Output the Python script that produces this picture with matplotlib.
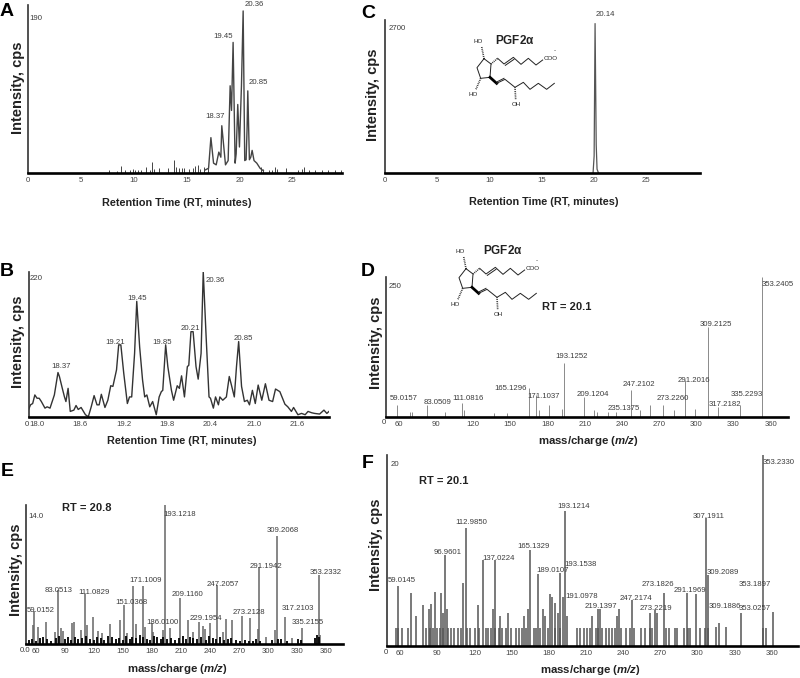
import matplotlib
matplotlib.use('Agg')
import matplotlib.pyplot as plt

plt.rcParams['font.family'] = ['Liberation Sans', 'DejaVu Sans']
plt.rcParams['mathtext.fontset'] = 'custom'
plt.rcParams['mathtext.bfit'] = 'Liberation Sans:italic:bold'

# panel A - full chromatogram
rt_a = [16.76, 17.08, 17.30, 17.55, 17.80, 18.05, 18.24, 18.33, 18.49, 18.68, 18.93, 19.12, 19.25, 19.40, 19.59,
        19.69, 19.84, 20.00, 20.19, 20.35, 20.50, 20.63, 20.72, 20.79, 20.94, 21.07, 21.20, 21.38, 21.64, 21.95, 22.26]
int_a = [3, 5, 41, 11, 9, 24, 18, 55, 34, 9, 14, 102, 73, 153, 11,
         22, 80, 30, 102, 190, 14, 15, 51, 96, 15, 18, 26, 14, 11, 5, 2]
noise_rt_a = [7.64, 8.43, 8.77, 9.21, 9.62, 9.9, 10.16, 10.38, 10.69, 11.19, 11.57, 11.73, 11.89, 12.42, 13.2, 13.84,
              14.03, 14.25, 14.56, 14.78, 15.19, 15.6, 15.82, 16.04, 16.29, 16.6, 17.0, 22.0, 22.26, 22.83, 23.05,
              23.33, 23.58, 24.4, 25.5, 25.88, 26.13, 26.6, 27.14, 27.77, 28.4, 29.03, 29.56]
noise_int_a = [3, 2, 8, 3, 3, 4, 3, 3, 3, 7, 3, 12, 4, 5, 5, 15,
               6, 5, 5, 5, 4, 5, 8, 9, 4, 6, 5, 7, 4, 3, 3,
               7, 4, 5, 3, 4, 6, 3, 3, 3, 3, 3, 3]

# panel B - zoomed chromatogram
rt_b = [17.88, 17.91, 17.94, 17.97, 18.00, 18.03, 18.06, 18.11, 18.14, 18.18, 18.24, 18.29, 18.31, 18.35, 18.38, 18.40,
        18.43, 18.46, 18.51, 18.54, 18.57, 18.61, 18.67, 18.71, 18.75, 18.79, 18.83, 18.86, 18.89, 18.94, 18.98, 19.02,
        19.05, 19.10, 19.13, 19.16, 19.20, 19.25, 19.28, 19.31, 19.35, 19.38, 19.42, 19.46, 19.49, 19.52, 19.56, 19.60,
        19.65, 19.69, 19.72, 19.74, 19.78, 19.81, 19.86, 19.89, 19.94, 19.97, 20.00, 20.04, 20.08, 20.10, 20.13, 20.16,
        20.20, 20.23, 20.27, 20.30, 20.34, 20.38, 20.40, 20.44, 20.47, 20.51, 20.53, 20.57, 20.62, 20.66, 20.69, 20.73,
        20.76, 20.79, 20.83, 20.87, 20.91, 20.94, 20.98, 21.02, 21.06, 21.11, 21.16, 21.21, 21.26, 21.30, 21.36, 21.43,
        21.47, 21.52, 21.55, 21.61, 21.66, 21.71, 21.75, 21.80, 21.84, 21.91, 21.97, 22.01, 22.04]
int_b = [10, 18, 20, 33, 28, 28, 23, 13, 15, 13, 33, 67, 61, 43, 30, 23,
         43, 8, 10, 17, 11, 14, 3, 0, 15, 32, 18, 18, 34, 14, 25, 47,
         46, 71, 109, 109, 66, 20, 30, 30, 96, 175, 106, 56, 30, 33, 15, 23,
         3, 30, 38, 40, 109, 76, 40, 25, 47, 43, 62, 30, 76, 78, 129, 129,
         76, 57, 96, 220, 121, 30, 28, 13, 30, 18, 30, 25, 30, 61, 48, 30,
         76, 114, 46, 23, 25, 18, 40, 20, 48, 25, 50, 25, 23, 42, 38, 19,
         15, 8, 14, 3, 5, 3, 8, 6, 5, 4, 10, 5, 8]

# panel C - single peak
rt_c = [19.95, 20.05, 20.14, 20.25, 20.33, 20.45]
int_c = [0, 300, 2700, 500, 60, 0]

# panel D - spectrum
mz_d = [59.02, 69.4, 71, 83.05, 97, 111.08, 113, 137, 147, 165.13, 171.1, 173, 181, 191.4, 193.13, 209.12, 217.7, 220,
        229, 235.14, 247.21, 255, 263, 273.23, 281.7, 291.2, 299, 309.21, 317.22, 335.23, 353.24]
int_d = [21, 8, 8, 21, 8, 24, 12, 6, 6, 51, 39, 12, 21, 14, 96, 36, 12, 9,
         8, 9, 48, 12, 21, 21, 12, 66, 14, 160, 18, 21, 250]

# panel E - spectrum
mz_e = [58.5, 83.05, 111.08, 151.04, 161, 171.1, 180.01, 193.12, 209.12, 229.2, 247.21, 273.21, 291.19, 309.21,
        317.21, 335.22, 353.23, 56.8, 62, 70.9, 79.9, 85.7, 88.5, 97.1, 99.5, 106.4, 113.3, 118.8, 124.6, 128.4,
        137, 147.4, 154.6, 163.2, 173.2, 180.8, 191.1, 199.3, 217.3, 222.1, 233.1, 235.5, 240, 253.8, 257.2, 263.4,
        281.3, 289.6, 298.5, 307.5, 325.4, 354.3]
int_e = [3.3, 5.4, 5.0, 3.9, 5.8, 5.8, 2.1, 14.0, 4.6, 2.2, 5.9, 2.8, 7.8, 10.9,
         2.7, 1.6, 6.9, 1.9, 1.7, 2.2, 1.2, 1.6, 1.3, 2.1, 2.2, 1.4, 1.9, 2.7, 1.3, 1.1,
         2.0, 2.4, 1.1, 2.0, 1.7, 1.2, 1.4, 1.6, 2.4, 1.2, 1.8, 1.5, 2.1, 1.2, 2.5, 2.4,
         2.6, 1.5, 0.7, 1.4, 0.6, 0.9]
low_mz_e = [53, 56, 60, 64, 67, 72, 76, 81, 84, 90, 93, 96, 101, 104, 108, 112, 116, 120, 123, 127, 131, 135, 139,
            143, 146, 150, 153, 157, 160, 164, 168, 171, 175, 178, 182, 185, 189, 192, 196, 200, 204, 208, 212,
            215, 219, 223, 227, 231, 236, 239, 243, 246, 250, 255, 259, 262, 267, 271, 276, 280, 285, 288, 292,
            304, 311, 314, 320, 331, 334, 349, 351, 353]
low_int_e = [0.4, 0.5, 0.3, 0.6, 0.7, 0.5, 0.3, 0.6, 0.8, 0.5, 0.7, 0.4, 0.7, 0.5, 0.6, 0.8, 0.5, 0.4, 0.7, 0.6, 0.4, 0.8, 0.7,
             0.5, 0.6, 0.4, 0.8, 0.5, 0.7, 0.6, 0.9, 0.7, 0.5, 0.4, 0.8, 0.7, 0.5, 0.7, 0.5, 0.6, 0.4, 0.6, 0.8,
             0.5, 0.7, 0.6, 0.5, 0.7, 0.4, 0.8, 0.6, 0.5, 0.7, 0.4, 0.5, 0.6, 0.4, 0.3, 0.4, 0.3, 0.3, 0.5, 0.3,
             0.4, 0.5, 0.5, 0.3, 0.5, 0.4, 0.6, 0.9, 0.7]

# panel F - spectrum
mz_f = [58.55, 68.8, 72.8, 78.7, 83.0, 84.9, 87.9, 92.7, 94.6, 96.5, 98.1, 110.8, 112.9, 122.9, 126.9, 135, 136.9, 140.9,
        146.8, 160, 163, 165.1, 171, 175.1, 177, 181, 182.9, 185, 187.2, 189.1, 191.2, 193.1, 195, 215.2, 219.5, 221.1,
        235.1, 237, 247.2, 261.5, 265.5, 267.4, 273.3, 291.3, 299.1, 307.2, 308.8, 314.7, 317.2, 323.1, 335.2, 353.2, 361.3]
int_f = [6.3, 5.5, 3.1, 4.3, 3.9, 4.4, 5.6, 5.5, 3.4, 9.5, 3.9, 6.6, 12.3, 4.3, 9.0, 3.9, 9.0, 3.1,
         3.4, 3.1, 3.9, 10, 7.5, 3.9, 3.1, 5.4, 5.1, 4.5, 3.4, 7.6, 5.1, 14.1, 3.1, 3.1, 3.9, 3.9,
         3.1, 3.9, 4.8, 3.4, 3.7, 3.4, 5.5, 5.5, 5.4, 13.4, 7.4, 2.0, 2.4, 2.0, 3.4, 20, 3.5]
low_mz_f = [57, 58.5, 61.8, 66.1, 81.2, 83.8, 86.5, 89.8, 92.5, 94.6, 98.6, 101.3, 103.2, 106.7, 109.4, 114, 116.7, 120.4,
            123.7, 129, 130.9, 133.6, 136.3, 139.8, 142.5, 145.2, 149.8, 153.3, 156, 158.7, 161.4, 167.8, 170, 172.7,
            179.4, 184.8, 188.8, 202.8, 205, 208.2, 210.9, 213.6, 217.9, 219.7, 223.2, 225.9, 228.6, 231.3, 233.2,
            238.6, 242.1, 245.3, 248.5, 254.7, 258, 261.5, 263.6, 274.9, 277.1, 281.6, 283.5, 288.9, 292.4, 294.3,
            302.4, 305.9, 308.5, 353.2, 355.1]
low_level_f = 1.9

xticks_rt = [0, 5, 10, 15, 20, 25]
xticks_b = [18.0, 18.6, 19.2, 19.8, 20.4, 21.0, 21.6]
xticks_mz = [60, 90, 120, 150, 180, 210, 240, 270, 300, 330, 360]

GRAY = '#3c3c3c'
W, H = 800, 678

fig = plt.figure(figsize=(W / 100, H / 100), dpi=100)


def make_axes(left, right, top, bottom, xlim, ylim, ticks, ticklabels=None):
    ax = fig.add_axes([left / W, 1 - bottom / H, (right - left) / W, (bottom - top) / H])
    ax.set_xlim(*xlim)
    ax.set_ylim(*ylim)
    ax.set_xticks(ticks)
    if ticklabels:
        ax.set_xticklabels(ticklabels)
    ax.set_yticks([])
    ax.tick_params(axis='x', length=0, pad=3, labelsize=5.6, labelcolor='#444444')
    ax.spines['top'].set_visible(False)
    ax.spines['right'].set_visible(False)
    ax.spines['left'].set_linewidth(1.2)
    ax.spines['left'].set_color('#333333')
    ax.spines['bottom'].set_linewidth(1.9)
    ax.patch.set_alpha(0)
    return ax


ax_a = make_axes(28, 342, 5, 172.5, (0, 29.7), (0, 197), xticks_rt)
ax_a.plot(rt_a, int_a, color='#444444', lw=1.0)
ax_a.vlines(noise_rt_a, 0, noise_int_a, color='#444444', lw=0.7)

ax_c = make_axes(385, 700, 20, 172.5, (0, 30.2), (0, 2765), xticks_rt)
ax_c.plot(rt_c, int_c, color='#555555', lw=0.9)

ax_b = make_axes(28.7, 329, 271.7, 416.7, (17.885, 22.04), (0, 220),
                 xticks_b, ['%.1f' % t for t in xticks_b])
ax_b.plot(rt_b, int_b, color='#333333', lw=1.0)

ax_d = make_axes(386, 788, 277, 416.7, (49.8, 374), (0, 250), xticks_mz)
ax_d.vlines(mz_d, 0, int_d, color='#8a8a8a', lw=0.7)

ax_e = make_axes(26, 343, 505, 644, (49.9, 377.7), (0, 14), xticks_mz)
ax_e.vlines(mz_e, 0, int_e, color='#666666', lw=1.1)
ax_e.vlines(low_mz_e, 0, low_int_e, color='black', lw=1.3)

ax_f = make_axes(387, 798, 455, 645.7, (49.4, 381.2), (0, 20), xticks_mz)
ax_f.vlines(mz_f, 0, int_f, color='#555555', lw=1.1)
ax_f.vlines(low_mz_f, 0, low_level_f, color='#555555', lw=1.1)

# overlay in image pixels for labels and the structure drawings
ov = fig.add_axes([0, 0, 1, 1], zorder=5)
ov.set_xlim(0, W)
ov.set_ylim(H, 0)
ov.axis('off')


def small(x, y, s, size=5.6):
    ov.text(x, y, s, ha='center', va='center', fontsize=size, color=GRAY)


def molecule(dx, dy):
    def bond(pts, lw=0.7, ls='-', c='#222222'):
        ov.plot([p[0] / 3 + dx for p in pts], [p[1] / 3 + dy for p in pts], color=c, lw=lw, ls=ls)
    bond([(372, 176), (393, 192), (390, 232), (362, 235), (351, 203), (372, 176)])
    bond([(372, 176), (365, 140)], 1.2, (0, (0.5, 0.6)))
    bond([(393, 192), (413, 175)], 1.2, (0, (0.5, 0.6)))
    bond([(413, 175), (432, 192), (460, 172), (483, 193), (505, 175), (528, 195), (548, 180)])
    bond([(436, 196), (462, 178)])
    bond([(390, 232), (410, 250)], 2.0, c='black')
    bond([(410, 250), (435, 238), (465, 262), (490, 247), (510, 268), (535, 250), (560, 268), (583, 250)])
    bond([(412, 245), (432, 235)])
    bond([(465, 262), (467, 298)], 1.2, (0, (0.5, 0.6)))
    bond([(362, 235), (347, 270)], 1.2, (0, (0.5, 0.6)))
    for x, y, s in [(355, 125, 'HO'), (572, 175, 'COO'), (468, 312, 'OH'), (340, 282, 'HO'), (585, 152, '-')]:
        ov.text(x / 3 + dx, y / 3 + dy, s, ha='center', va='center', fontsize=4.5, color='#222222')


def pgf(x, y):
    ov.text(x, y, 'PGF2$\\mathregular{\\alpha}$', ha='center', va='center', fontsize=8.5, fontweight='bold', color='#222222')


for x, y, s in [(7, 12, 'A'), (368, 13, 'C'), (7, 272, 'B'), (368, 272, 'D'), (7, 471, 'E'), (368, 463, 'F')]:
    ov.text(x, y, s, ha='center', va='center', fontsize=14, fontweight='bold', color='black')

for x, y in [(18, 88), (373, 95), (18, 342), (376, 343), (16, 570), (376, 545)]:
    ov.text(x, y, 'Intensity, cps', rotation=90, ha='center', va='center', fontsize=10.5, fontweight='bold', color='#222222')

for x, y in [(177, 203), (544, 202), (182, 441)]:
    ov.text(x, y, 'Retention Time (RT, minutes)', ha='center', va='center', fontsize=7.8, fontweight='bold', color='#222222')
for x, y in [(588, 441), (177, 669), (590, 670)]:
    ov.text(x, y, 'mass/charge ($\\mathbfit{m/z}$)', ha='center', va='center', fontsize=8.2, fontweight='bold', color='#222222')

for x, y, s in [(567, 307, 'RT = 20.1'), (87, 508, 'RT = 20.8'), (444, 481, 'RT = 20.1')]:
    ov.text(x, y, s, ha='center', va='center', fontsize=8, fontweight='bold', color='#222222')

peak_labels = [
    (36, 19, '190'), (254, 5, '20.36'), (223, 36, '19.45'), (258, 83, '20.85'), (215, 117, '18.37'),
    (397, 28, '2700'), (605, 15, '20.14'),
    (36, 279, '220'), (61, 366, '18.37'), (115, 342, '19.21'), (137, 299, '19.45'), (162, 342, '19.85'),
    (190, 329, '20.21'), (215, 280, '20.36'), (243, 339, '20.85'),
    (395, 286, '250'), (778, 285, '353.2405'), (716, 324, '309.2125'), (572, 357, '193.1252'), (694, 380, '291.2016'),
    (639, 385, '247.2102'), (511, 389, '165.1296'), (593, 394, '209.1204'), (544, 396, '171.1037'),
    (747, 395, '335.2293'), (673, 399, '273.2260'), (404, 398, '59.0157'), (468, 399, '111.0816'),
    (438, 403, '83.0509'), (725, 404, '317.2182'), (624, 408, '235.1375'),
    (36, 516, '14.0'), (180, 514, '193.1218'), (283, 531, '309.2068'), (266, 567, '291.1942'), (326, 572, '353.2332'),
    (146, 581, '171.1009'), (223, 585, '247.2057'), (59, 590, '83.0513'), (94, 593, '111.0829'), (187, 594, '209.1160'),
    (131, 603, '151.0368'), (41, 610, '59.0152'), (298, 609, '317.2103'), (249, 613, '273.2128'), (206, 619, '229.1954'),
    (162, 622, '186.0100'), (308, 623, '335.2155'),
    (395, 464, '20'), (779, 462, '353.2330'), (574, 506, '193.1214'), (471, 522, '112.9850'), (709, 517, '307.1911'),
    (534, 547, '165.1329'), (448, 552, '96.9601'), (499, 558, '137.0224'), (581, 565, '193.1538'), (553, 571, '189.0107'),
    (723, 573, '309.2089'), (402, 581, '59.0145'), (658, 584, '273.1826'), (755, 585, '353.1897'), (690, 590, '291.1969'),
    (582, 596, '191.0978'), (636, 599, '247.2174'), (601, 606, '219.1397'), (725, 606, '309.1886'), (656, 608, '273.2219'),
    (755, 608, '353.0257'),
    (27, 424, '0'), (384, 422, '0'), (25, 651, '0.0'), (386, 652, '0'),
]
for x, y, s in peak_labels:
    small(x, y, s)

molecule(360, 0)
pgf(515, 41)
molecule(342, 210)
pgf(503, 250)

fig.savefig('out.png', dpi=100)
